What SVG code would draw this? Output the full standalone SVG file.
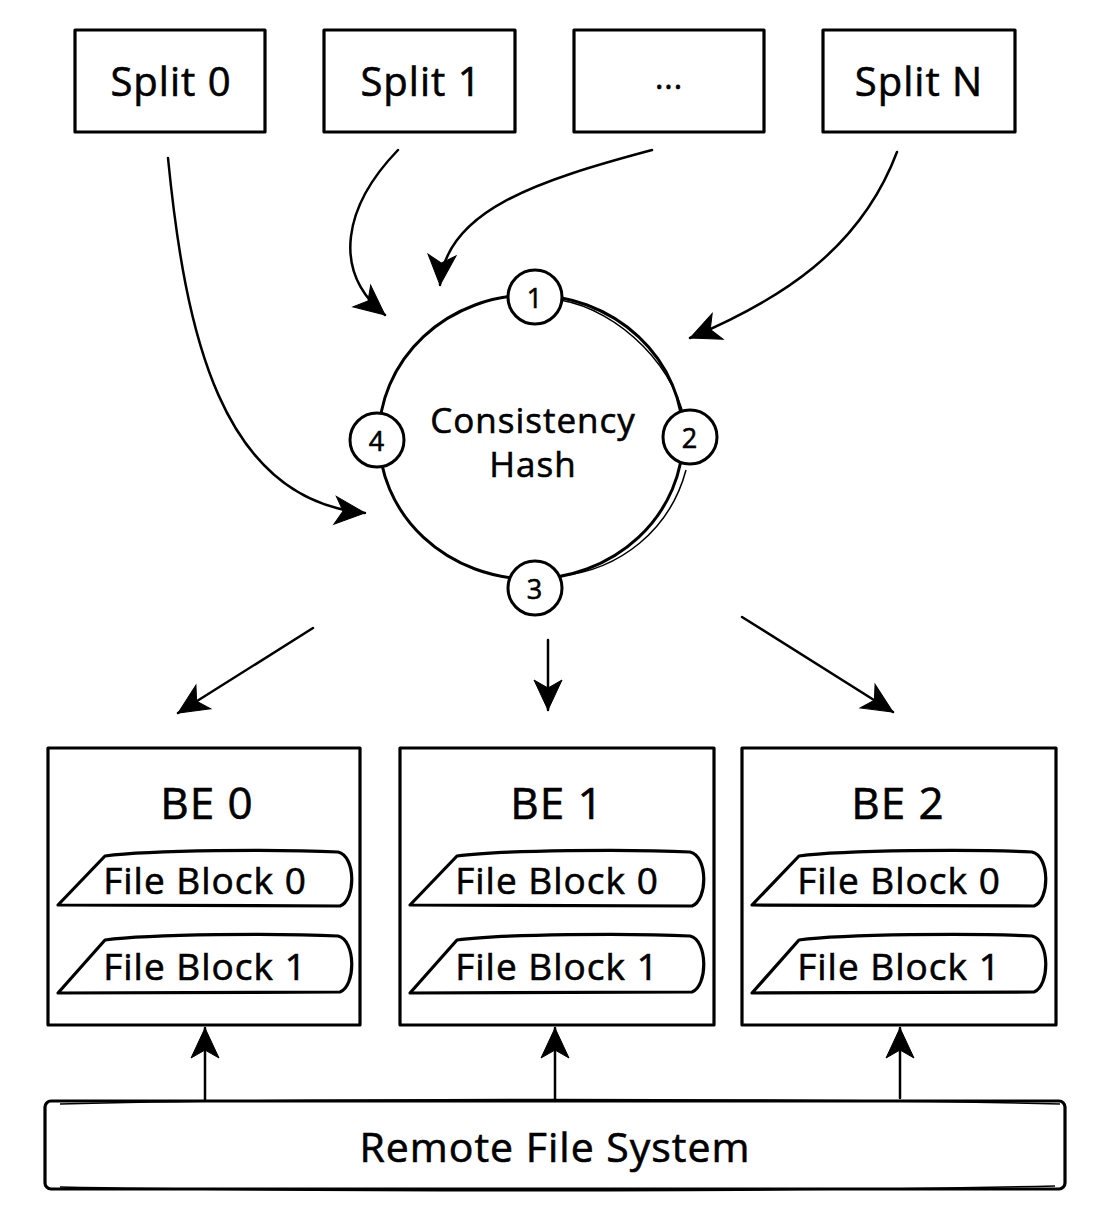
<svg xmlns="http://www.w3.org/2000/svg" width="1094" height="1218" viewBox="0 0 1094 1218">
<style>
.box{fill:#fff;stroke:#000;stroke-width:3.2;stroke-linejoin:round}
.sk{fill:none;stroke:#000;stroke-width:1.5}
.lbl{font-family:"Open Sans","DejaVu Sans",sans-serif;fill:#000;stroke:#000;stroke-width:0.6;text-anchor:middle;dominant-baseline:central;letter-spacing:1px}
.conn{fill:none;stroke:#000;stroke-width:2.5;stroke-linecap:round}
</style>
<defs>
<marker id="ah" viewBox="0 0 20 20" refX="18" refY="10" markerWidth="20" markerHeight="20" markerUnits="userSpaceOnUse" orient="auto" overflow="visible">
<path d="M-12,-4 L18,10 L-12,24 L-4,10 Z" fill="#000" stroke="#000" stroke-width="1"/>
</marker>
</defs>
<rect width="1094" height="1218" fill="#fff"/>

<g id="split0"><rect class="box" x="75" y="30" width="190" height="102"/><text class="lbl" x="171" y="80" font-size="40">Split 0</text></g>
<g id="split1"><rect class="box" x="324" y="30" width="191" height="102"/><text class="lbl" x="421" y="80" font-size="40">Split 1</text></g>
<g id="splitdots"><rect class="box" x="574" y="30" width="190" height="102"/><text class="lbl" x="669" y="76" font-size="32">...</text></g>
<g id="splitN"><rect class="box" x="823" y="30" width="192" height="102"/><text class="lbl" x="919" y="80" font-size="40">Split N</text></g>

<g id="ring">
<ellipse cx="531" cy="437" rx="152" ry="142" fill="#fff" stroke="#000" stroke-width="3"/>
<path class="sk" d="M560,300 C620,310 680,370 686,430"/>
<path class="sk" d="M686,470 C670,530 620,570 560,576"/>
<text class="lbl" x="533" y="419" font-size="35">Consistency</text>
<text class="lbl" x="533" y="463" font-size="35">Hash</text>
</g>
<g id="node1"><circle cx="535" cy="297" r="27" fill="#fff" stroke="#000" stroke-width="3"/><text class="lbl" x="535" y="297" font-size="27">1</text></g>
<g id="node2"><circle cx="690" cy="437" r="27" fill="#fff" stroke="#000" stroke-width="3"/><text class="lbl" x="690" y="437" font-size="27">2</text></g>
<g id="node3"><circle cx="535" cy="588" r="27" fill="#fff" stroke="#000" stroke-width="3"/><text class="lbl" x="535" y="588" font-size="27">3</text></g>
<g id="node4"><circle cx="377" cy="440" r="27" fill="#fff" stroke="#000" stroke-width="3"/><text class="lbl" x="377" y="440" font-size="27">4</text></g>

<g id="be0">
<rect class="box" x="48" y="748" width="312" height="277"/>
<text class="lbl" x="207" y="802" font-size="44">BE 0</text>
<path class="box" d="M58,905 L105,856 C150,850 280,849 338,852 C356,856 356,900 340,906 Z"/>
<text class="lbl" x="205" y="879" font-size="37">File Block 0</text>
<path class="box" d="M58,993 L105,940 C150,934 280,933 338,936 C356,940 356,986 340,992 Z"/>
<text class="lbl" x="205" y="965" font-size="37">File Block 1</text>
</g>
<g id="be1">
<rect class="box" x="400" y="748" width="314" height="277"/>
<text class="lbl" x="557" y="802" font-size="44">BE 1</text>
<path class="box" d="M410,905 L457,856 C502,850 632,849 690,852 C708,856 708,900 692,906 Z"/>
<text class="lbl" x="557" y="879" font-size="37">File Block 0</text>
<path class="box" d="M410,993 L457,940 C502,934 632,933 690,936 C708,940 708,986 692,992 Z"/>
<text class="lbl" x="557" y="965" font-size="37">File Block 1</text>
</g>
<g id="be2">
<rect class="box" x="742" y="748" width="314" height="277"/>
<text class="lbl" x="898" y="802" font-size="44">BE 2</text>
<path class="box" d="M752,905 L799,856 C844,850 974,849 1032,852 C1050,856 1050,900 1034,906 Z"/>
<text class="lbl" x="899" y="879" font-size="37">File Block 0</text>
<path class="box" d="M752,993 L799,940 C844,934 974,933 1032,936 C1050,940 1050,986 1034,992 Z"/>
<text class="lbl" x="899" y="965" font-size="37">File Block 1</text>
</g>

<g id="rfs">
<rect class="box" x="45" y="1101" width="1020" height="88" rx="6"/>
<path class="sk" d="M60,1104 C300,1098 800,1098 1060,1104"/>
<path class="sk" d="M60,1187 C300,1192 800,1192 1055,1186"/>
<text class="lbl" x="555" y="1146" font-size="41">Remote File System</text>
</g>

<g id="connectors">
<path class="conn" marker-end="url(#ah)" d="M168,158 C185,330 220,500 365,513"/>
<path class="conn" marker-end="url(#ah)" d="M398,150 C345,205 330,270 385,315"/>
<path class="conn" marker-end="url(#ah)" d="M652,150 C540,180 445,210 440,285"/>
<path class="conn" marker-end="url(#ah)" d="M897,152 C860,250 780,300 690,338"/>
<path class="conn" marker-end="url(#ah)" d="M313,628 L178,713"/>
<path class="conn" marker-end="url(#ah)" d="M548,640 L548,710"/>
<path class="conn" marker-end="url(#ah)" d="M742,617 L893,712"/>
<path class="conn" marker-end="url(#ah)" d="M205,1100 L205,1028"/>
<path class="conn" marker-end="url(#ah)" d="M555,1100 L555,1028"/>
<path class="conn" marker-end="url(#ah)" d="M900,1098 L900,1028"/>
</g>
</svg>
